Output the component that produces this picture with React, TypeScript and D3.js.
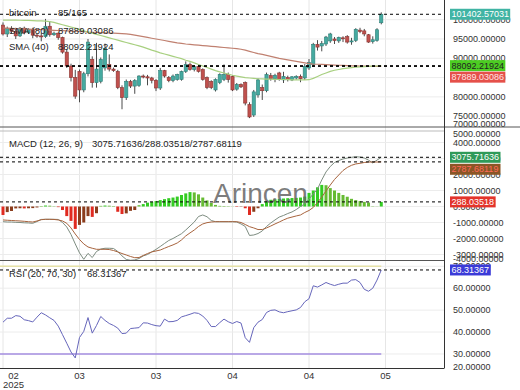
import * as d3 from "d3";
import React from "react";

// daily candles, values in thousands of USD
const opens = [98.6,96.3,97.7,97.0,95.8,97.8,96.6,97.5,96.0,95.8, 95.6,98.3,96.1,96.5,95.4,91.6,88.0,85.0,86.6,81.8, 86.0,89.7,83.7,84.0,87.5,88.4,87.2,86.6,82.4,79.8, 84.0,82.8,83.0,85.4,85.2,84.9,84.3,82.3,86.8,85.0, 84.2,84.5,84.5,86.6,88.4,87.1,87.9,87.1,85.0,84.0, 81.8,83.7,84.5,85.8,85.3,82.0,83.2,83.7,78.0,75.3, 80.5,82.4,81.6,85.5,84.7,86.2,84.4,85.0,84.4,84.9, 85.3,84.9,87.5,88.4,93.6,93.2,93.7,94.5,95.0,94.5, 95.3,95.6,94.3,94.6,97.3,97.1,96.1,94.3,94.6,99.2];
const highs = [99.3,98.2,98.3,97.9,98.1,98.2,97.8,97.9,96.5,96.6, 100.2,99.5,96.9,96.7,95.6,92.3,88.6,87.0,87.1,86.5, 95.0,90.5,94.0,90.2,93.8,91.0,87.6,87.0,83.0,84.5, 84.4,84.6,85.6,85.8,85.7,85.2,84.6,87.5,87.0,85.4, 85.8,86.0,86.8,89.2,88.9,88.2,88.3,87.4,85.3,84.3, 84.8,86.1,88.4,86.3,85.6,83.6,83.5,84.0,78.6,81.8, 84.8,83.2,86.3,86.2,86.0,86.5,86.5,85.5,85.4,85.6, 85.8,88.5,89.8,94.0,94.7,94.5,95.8,96.6,95.5,95.6, 95.7,96.0,95.3,97.8,97.9,97.6,96.3,95.7,97.8,101.9];
const lows = [95.9,95.5,96.5,95.0,95.5,96.2,96.3,95.2,95.3,94.4, 95.3,95.6,95.8,94.8,91.2,87.5,84.0,79.5,78.6,81.2, 85.3,82.4,82.4,83.5,86.8,86.6,86.5,82.0,76.8,79.2, 82.3,80.8,82.6,84.8,83.0,83.5,81.5,81.8,85.0,83.8, 83.8,84.2,84.2,86.2,86.8,86.6,86.3,84.2,82.0,82.0, 81.4,83.3,84.1,83.7,81.5,81.6,82.3,77.8,74.5,74.8, 79.8,79.2,81.2,84.2,83.8,84.2,83.6,84.0,84.1,84.5, 83.8,84.4,87.0,87.8,92.0,91.8,93.2,94.0,93.7,94.0, 94.2,93.8,93.5,94.2,96.5,95.7,94.0,93.8,94.3,98.8];
const closes = [96.3,97.7,97.0,95.8,97.8,96.6,97.5,96.0,95.8,95.6, 98.3,96.1,96.5,95.4,91.6,88.0,85.0,80.2,81.8,86.0, 94.2,83.7,87.2,89.7,92.6,87.2,86.8,82.4,79.8,84.0, 82.8,84.2,85.4,85.2,84.9,84.3,82.3,86.8,85.4,84.2, 85.4,85.8,86.6,88.4,87.1,87.8,86.6,84.5,82.4,82.4, 84.5,85.8,85.8,84.5,81.8,83.2,82.6,78.4,74.8,81.3, 84.4,81.6,85.8,84.7,85.6,84.5,85.3,84.5,85.2,85.3, 84.7,87.9,88.9,93.6,92.9,93.8,95.5,96.3,94.6,95.4, 95.1,94.2,94.5,97.5,96.9,96.3,94.2,94.8,97.4,101.40257];

const sma40 = [99.9,99.9,99.9,99.9,99.85,99.8,99.8,99.75,99.7,99.7, 99.65,99.5,99.3,99.0,98.7,98.4,98.1,97.8,97.5,97.1, 96.8,96.5,96.2,95.9,95.6,95.3,95.0,94.7,94.4,94.1, 93.8,93.5,93.2,92.9,92.5,92.1,91.8,91.4,91.1,90.8, 90.5,90.2,89.9,89.5,89.2,88.8,88.4,88.0,87.6,87.2, 86.8,86.5,86.2,85.9,85.6,85.4,85.2,85.0,84.9,84.8, 84.7,84.65,84.6,84.6,84.55,84.5,84.5,84.45,84.4,84.4, 84.4,84.4,84.45,84.8,85.3,85.8,86.2,86.6,86.9,87.1, 87.3,87.45,87.6,87.7,87.8,87.85,87.9,87.95,88.0,88.09222];
const sma80 = [97.85,97.8,97.75,97.7,97.65,97.6,97.55,97.5,97.45,97.4, 97.35,97.3,97.25,97.2,97.15,97.1,97.05,97.0,96.95,96.9, 96.8,96.75,96.7,96.65,96.6,96.55,96.5,96.45,96.4,96.3, 96.2,96.0,95.8,95.6,95.4,95.2,95.0,94.8,94.6,94.4, 94.2,94.0,93.85,93.7,93.6,93.5,93.4,93.3,93.2,93.1, 93.0,92.9,92.8,92.7,92.6,92.5,92.35,92.1,91.8,91.5, 91.2,91.0,90.75,90.5,90.25,90.0,89.8,89.6,89.4,89.2, 89.0,88.8,88.6,88.5,88.45,88.4,88.35,88.3,88.25,88.2, 88.15,88.1,88.06,88.02,87.99,87.96,87.94,87.92,87.9,87.88903];

const macdLine = [-950,-970,-970,-990,-1000,-1020,-1030,-1050,-940,-810, -800,-800,-800,-810,-1000,-1280,-1750,-2340,-2900,-3300, -2930,-3190,-2810,-2660,-2610,-2610,-2625,-2810,-3090,-3310, -3360,-3340,-3250,-3090,-3000,-2840,-2680,-2500,-2310,-2125, -2000,-1850,-1700,-1470,-1220,-970,-625,-530,-640,-875, -950,-950,-950,-950,-950,-970,-1090,-1250,-1810,-1780, -1690,-1530,-1250,-1030,-840,-660,-560,-440,-340,-190, 0,160,470,780,1090,1660,2160,2500,2750,2875, 2970,3030,3075,3110,3090,3030,2900,2720,2900,3075.71636];
const signalLine = [-840,-860,-875,-890,-905,-925,-950,-970,-905,-825, -800,-800,-810,-840,-905,-1050,-1340,-1720,-2060,-2340, -2530,-2610,-2675,-2675,-2675,-2690,-2750,-2840,-2940,-3030, -3125,-3200,-3190,-3060,-2940,-2840,-2780,-2720,-2610,-2500, -2400,-2280,-2090,-1840,-1650,-1470,-1250,-1090,-1010,-970, -950,-950,-950,-950,-950,-950,-1000,-1125,-1260,-1340, -1440,-1440,-1340,-1220,-1090,-970,-840,-730,-660,-590, -530,-375,-250,-60,250,590,970,1340,1690,1970, 2250,2440,2575,2660,2700,2750,2780,2780,2780,2787.68119];
const histogram = [-530,-350,-280,-120,-110,-120,-110,-100,-60,30, 60,50,20,-40,-220,-600,-900,-1400,-1150,-1000, -600,-650,-420,40,60,50,30,-330,-470,-430, -270,-220,80,150,240,290,340,400,460,520, 560,620,720,820,900,880,760,560,380,220, 100,40,30,20,10,-30,-20,-110,-530,-330, -110,150,330,420,450,480,500,520,530,540, 560,620,850,1000,1200,1350,1330,1150,1000,850, 720,610,480,400,340,290,250,20,10,288.03518];

const rsi = [44.5,46.3,46.3,47.5,47.2,45.6,45.2,44.6,46.8,48.8, 47.8,46.5,45.3,42.7,38.8,34.9,30.9,28.2,37.5,40.3, 46.6,39.5,43.0,47.1,45.3,43.9,43.0,41.8,39.3,39.5, 41.6,41.8,42.0,44.2,44.1,43.4,42.9,42.7,45.9,44.7, 44.8,45.3,46.9,47.5,48.1,48.8,48.5,47.3,45.3,42.5, 42.5,44.3,45.9,44.7,43.9,44.8,44.1,37.4,35.3,42.0, 44.5,45.7,48.9,49.9,50.1,49.2,48.8,49.3,49.7,50.1, 51.2,53.8,55.2,61.1,60.5,61.5,62.6,61.8,61.2,61.8, 62.3,62.3,63.7,63.9,62.6,59.5,58.6,60.0,63.7,68.31367];

const tickIndex = [0, 18, 36, 54, 72, 90];
const tickLabels = ["02", "03", "03", "04", "04", "05"];
const priceTicks = [70, 75, 80, 85, 90, 95, 100];
const macdTicks = [-4000, -3000, -2000, -1000, 0, 1000, 2000, 3000, 4000, 5000];
const rsiTicks = [20, 30, 40, 50, 60, 70];

const lastPrice = 101402.57031;
const lastSma80 = 87889.03086;
const lastSma40 = 88092.21924;
const lastMacd = 3075.71636;
const lastHist = 288.03518;
const lastSignal = 2787.68119;
const lastRsi = 68.31367;

const FONT = "Liberation Sans, Arial, sans-serif";

function Tag({ y, text, bg, color }: { y: number; text: string; bg: string; color: string }) {
  const w = text.length * 4.85 + 2;
  return (
    <g>
      <rect x={450} y={y - 5.5} width={w} height={11} fill={bg} />
      <text x={451.5} y={y} dy="0.35em" fill={color} fontSize={9} fontFamily={FONT}>{text}</text>
    </g>
  );
}

export default function App() {
  const W = 520, H = 390;
  const right = 444;
  const price = { top: 0, bottom: 127 };
  const macd = { top: 127, bottom: 260 };
  const rsiP = { top: 261, bottom: 368 };

  const x = d3.scaleLinear().domain([0, 103.76]).range([3, right]);
  const yP = d3.scaleLinear().domain([72.2, 105.1]).range([price.bottom, price.top]);
  const yM = d3.scaleLinear().domain([-3344, 4969]).range([macd.bottom, macd.top]);
  const yR = d3.scaleLinear().domain([23.6, 72.4]).range([rsiP.bottom, rsiP.top]);

  const idx = d3.range(closes.length);
  const lineP = (arr: number[]) => d3.line<number>().x((i) => x(i)).y((i) => yP(arr[i]))(idx) || "";
  const lineM = (arr: number[]) => d3.line<number>().x((i) => x(i)).y((i) => yM(arr[i]))(idx) || "";
  const rsiPath = d3.line<number>().x((i) => x(i)).y((i) => yR(rsi[i]))(idx) || "";

  const clamp = (v: number, lo: number, hi: number) => Math.max(lo, Math.min(hi, v));
  const dash = (y: number, key: string) => (
    <line key={key} x1={0} x2={right} y1={y} y2={y} stroke="#000" strokeWidth={1} strokeDasharray="3,3" />
  );
  const lastX = x(closes.length - 1);

  return (
    <div>
      <style>{"body{margin:0}"}</style>
      <svg width={W} height={H} style={{ display: "block", background: "#fff" }} fontFamily={FONT}>
        <defs>
          <clipPath id="cp"><rect x={0} y={price.top} width={right} height={price.bottom - price.top} /></clipPath>
          <clipPath id="cm"><rect x={0} y={macd.top} width={right} height={macd.bottom - macd.top} /></clipPath>
          <clipPath id="cr"><rect x={0} y={rsiP.top} width={right} height={rsiP.bottom - rsiP.top} /></clipPath>
        </defs>

        {/* vertical grid */}
        {tickIndex.map((t, k) => (
          <line key={"vg" + k} x1={x(t)} x2={x(t)} y1={0} y2={rsiP.bottom} stroke="#e6e6e6" />
        ))}
        {/* horizontal grids */}
        {priceTicks.map((v) => (
          <line key={"pg" + v} x1={0} x2={right} y1={yP(v)} y2={yP(v)} stroke="#ececec" clipPath="url(#cp)" />
        ))}
        {macdTicks.map((v) => (
          <line key={"mg" + v} x1={0} x2={right} y1={yM(v)} y2={yM(v)} stroke="#ececec" clipPath="url(#cm)" />
        ))}
        {rsiTicks.map((v) => (
          <line key={"rg" + v} x1={0} x2={right} y1={yR(v)} y2={yR(v)} stroke="#ececec" clipPath="url(#cr)" />
        ))}

        {/* price panel */}
        <g clipPath="url(#cp)">
          {idx.map((i) => {
            const up = closes[i] >= opens[i];
            const top = yP(Math.max(opens[i], closes[i]));
            const bot = yP(Math.min(opens[i], closes[i]));
            return (
              <g key={"c" + i}>
                <line x1={x(i)} x2={x(i)} y1={yP(highs[i])} y2={yP(lows[i])} stroke="#4a4a4a" strokeWidth={1} />
                <rect x={x(i) - 1.6} y={top} width={3.2} height={Math.max(1, bot - top)}
                  fill={up ? "#45aaa0" : "#c0504d"} stroke={up ? "#2e7f78" : "#8a3431"} strokeWidth={0.6} />
              </g>
            );
          })}
          <path d={lineP(sma80)} fill="none" stroke="#c08070" strokeWidth={1.2} />
          <path d={lineP(sma40)} fill="none" stroke="#a8d080" strokeWidth={1.2} />
          {dash(yP(lastPrice / 1000), "d1")}
          {dash(yP(lastSma40 / 1000), "d2")}
          {dash(yP(lastSma80 / 1000), "d3")}
        </g>
        <text x={9} y={16} fontSize={9.5} fill="#222">bitcoin</text>
        <text x={58} y={16} fontSize={9.5} fill="#222">85/165</text>
        <text x={9} y={33.5} fontSize={9.5} fill="#222">SMA (80)</text>
        <text x={58} y={33.5} fontSize={9.5} fill="#222">{lastSma80.toFixed(5)}</text>
        <text x={9} y={50} fontSize={9.5} fill="#222">SMA (40)</text>
        <text x={58} y={50} fontSize={9.5} fill="#222">{lastSma40.toFixed(5)}</text>

        {/* MACD panel */}
        <g clipPath="url(#cm)">
          {idx.map((i) => {
            const h = histogram[i];
            const prev = i > 0 ? histogram[i - 1] : 0;
            const grow = Math.abs(h) >= Math.abs(prev);
            const fill = h >= 0 ? (grow ? "#33cc22" : "#66bb33") : (grow ? "#e02a20" : "#8b3c1c");
            const y0 = yM(0), y1 = yM(h);
            return <rect key={"h" + i} x={x(i) - 1.5} y={Math.min(y0, y1)} width={3} height={Math.abs(y1 - y0)} fill={fill} />;
          })}
          <text x={213} y={203} fontSize={28} fill="#666" fillOpacity={0.85}>Arincen</text>
          <path d={lineM(macdLine)} fill="none" stroke="#7d8c80" strokeWidth={1} />
          <path d={lineM(signalLine)} fill="none" stroke="#a8643e" strokeWidth={1} />
          {dash(yM(lastMacd), "m1")}
          {dash(yM(lastSignal), "m2")}
          {dash(yM(lastHist), "m3")}
        </g>
        <text x={9} y={146.5} fontSize={9.5} fill="#222">MACD (12, 26, 9)</text>
        <text x={92} y={146.5} fontSize={9.5} fill="#222">
          {lastMacd.toFixed(5) + "/" + lastHist.toFixed(5) + "/" + lastSignal.toFixed(5)}
        </text>

        {/* RSI panel */}
        <g clipPath="url(#cr)">
          <line x1={0} x2={lastX} y1={yR(70)} y2={yR(70)} stroke="#e6e2a8" strokeWidth={1.5} />
          <line x1={0} x2={lastX} y1={yR(30)} y2={yR(30)} stroke="#a48ee0" strokeWidth={1.5} />
          <path d={rsiPath} fill="none" stroke="#6666bb" strokeWidth={1} />
          {dash(yR(lastRsi), "r1")}
        </g>
        <text x={9} y={277} fontSize={9.5} fill="#222">RSI (20, 70, 30)</text>
        <text x={87} y={277} fontSize={9.5} fill="#222">{lastRsi.toFixed(5)}</text>

        {/* panel borders */}
        <line x1={0} x2={W} y1={127} y2={127} stroke="#555" />
        <line x1={0} x2={right} y1={131} y2={131} stroke="#bbb" />
        <line x1={0} x2={right} y1={260.5} y2={260.5} stroke="#555" />
        <line x1={0} x2={right} y1={368.5} y2={368.5} stroke="#333" />
        <line x1={right + 0.5} x2={right + 0.5} y1={0} y2={368.5} stroke="#333" />

        {/* axis labels */}
        {priceTicks.map((v) => (
          <text key={"pl" + v} x={453} y={clamp(yP(v), 6, 124)} dy="0.35em" fontSize={9} fill="#333">
            {(v * 1000).toFixed(5)}
          </text>
        ))}
        {macdTicks.map((v) => (
          <text key={"ml" + v} x={453} y={clamp(yM(v), 134, 259)} dy="0.35em" fontSize={9} fill="#333">
            {v.toFixed(5)}
          </text>
        ))}
        {rsiTicks.map((v) => (
          <text key={"rl" + v} x={453} y={clamp(yR(v), 266, 367)} dy="0.35em" fontSize={9} fill="#333">
            {v.toFixed(5)}
          </text>
        ))}
        {tickIndex.map((t, k) => (
          <text key={"xl" + k} x={Math.max(x(t), 13.5)} y={378.5} textAnchor="middle" fontSize={9.5} fill="#333">
            {tickLabels[k]}
          </text>
        ))}
        <text x={13.5} y={387.5} textAnchor="middle" fontSize={9.5} fill="#333">2025</text>

        {/* value tags */}
        <Tag y={yP(lastPrice / 1000)} text={lastPrice.toFixed(5)} bg="#40b4a4" color="#fff" />
        <Tag y={yP(lastSma40 / 1000)} text={lastSma40.toFixed(5)} bg="#4ccd22" color="#222" />
        <Tag y={yP(lastSma40 / 1000) + 11.5} text={lastSma80.toFixed(5)} bg="#e5504a" color="#ffe4e4" />
        <Tag y={yM(lastMacd)} text={lastMacd.toFixed(5)} bg="#2f9a58" color="#fff" />
        <Tag y={yM(lastMacd) + 12} text={lastSignal.toFixed(5)} bg="#8a5626" color="#ff6a5a" />
        <Tag y={yM(lastHist)} text={lastHist.toFixed(5)} bg="#e3342b" color="#fff" />
        <Tag y={yR(lastRsi)} text={lastRsi.toFixed(5)} bg="#3b3bd8" color="#fff" />
      </svg>
    </div>
  );
}
